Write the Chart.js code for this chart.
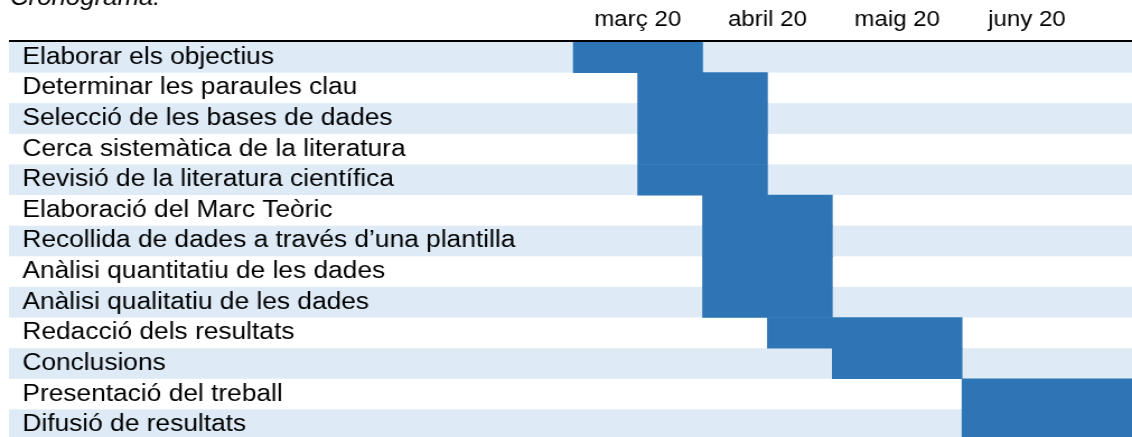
<!DOCTYPE html>
<html>
<head>
<meta charset="utf-8">
<script src="https://cdn.jsdelivr.net/npm/chart.js@4"></script>
<style>
  html, body { margin: 0; padding: 0; background: #fff; overflow: hidden; }
</style>
</head>
<body>
<canvas id="gantt" width="1011" height="440" style="width:1132px;height:440px;display:block;"></canvas>
<script>
(function () {
  "use strict";

  // Data
  var tasks = [
    "Elaborar els objectius",
    "Determinar les paraules clau",
    "Selecció de les bases de dades",
    "Cerca sistemàtica de la literatura",
    "Revisió de la literatura científica",
    "Elaboració del Marc Teòric",
    "Recollida de dades a través d\u2019una plantilla",
    "Anàlisi quantitatiu de les dades",
    "Anàlisi qualitatiu de les dades",
    "Redacció dels resultats",
    "Conclusions",
    "Presentació del treball",
    "Difusió de resultats",
  ];
  var months = ["març 20", "abril 20", "maig 20", "juny 20"];
  // start / end in months from 1 March
  var taskStart = [0, 0.5, 0.5, 0.5, 0.5, 1, 1, 1, 1, 1.5, 2, 3, 3];
  var taskEnd = [1, 1.5, 1.5, 1.5, 1.5, 2, 2, 2, 2, 3, 3, 4.5, 4.5];

  var font = "'Liberation Sans', Arial, sans-serif";
  var blue = "#2E75B6";
  var band = "#DEEBF7";

  // Row bands, title and header line
  var tablePlugin = {
    id: "table",
    beforeDraw: function (chart) {
      var ctx = chart.ctx;
      var y = chart.scales.y;
      var half = (y.getPixelForValue(1) - y.getPixelForValue(0)) / 2;
      ctx.save();
      ctx.fillStyle = band;
      for (var i = 0; i < tasks.length; i += 2) {
        var c = y.getPixelForValue(i);
        ctx.fillRect(8, c - half, chart.width - 8, half * 2);
      }
      ctx.fillStyle = "#000";
      ctx.font = "italic 23px " + font;
      ctx.textBaseline = "alphabetic";
      ctx.fillText("Cronograma:", 9, 5);
      ctx.restore();
    },
    afterDatasetsDraw: function (chart) {
      var ctx = chart.ctx;
      var top = chart.chartArea.top;
      ctx.save();
      ctx.fillStyle = "#000";
      ctx.fillRect(8, top - 2, chart.width - 8, 2);
      ctx.restore();
    },
  };

  var bars = tasks.map(function (t, i) {
    return [taskStart[i], taskEnd[i]];
  });

  new Chart(document.getElementById("gantt"), {
    type: "bar",
    data: {
      labels: tasks,
      datasets: [
        {
          data: bars,
          backgroundColor: blue,
          borderWidth: 0,
          barPercentage: 1,
          categoryPercentage: 1,
        },
      ],
    },
    options: {
      indexAxis: "y",
      responsive: false,
      animation: false,
      layout: { padding: { left: 20, right: 0, top: 0, bottom: 0 } },
      plugins: {
        legend: { display: false },
        tooltip: { enabled: false },
      },
      scales: {
        x: {
          type: "linear",
          position: "top",
          min: 0,
          max: 4.31,
          grid: { display: false },
          border: { display: false },
          afterFit: function (axis) {
            axis.height = 42;
            axis.paddingLeft = 0;
            axis.paddingRight = 0;
          },
          afterBuildTicks: function (axis) {
            axis.ticks = months.map(function (m, i) {
              return { value: i + 0.5 };
            });
          },
          ticks: {
            autoSkip: false,
            maxRotation: 0,
            padding: 1,
            color: "#000",
            font: { family: font, size: 21.5 },
            callback: function (v, i) {
              return months[i];
            },
          },
        },
        y: {
          grid: { display: false },
          border: { display: false },
          afterFit: function (axis) {
            axis.width = 491.6;
            axis.paddingTop = 0;
            axis.paddingBottom = 0;
          },
          ticks: {
            crossAlign: "far",
            autoSkip: false,
            color: "#000",
            font: { family: font, size: 23.5 },
          },
        },
      },
    },
    plugins: [tablePlugin],
  });
})();
</script>
</body>
</html>
